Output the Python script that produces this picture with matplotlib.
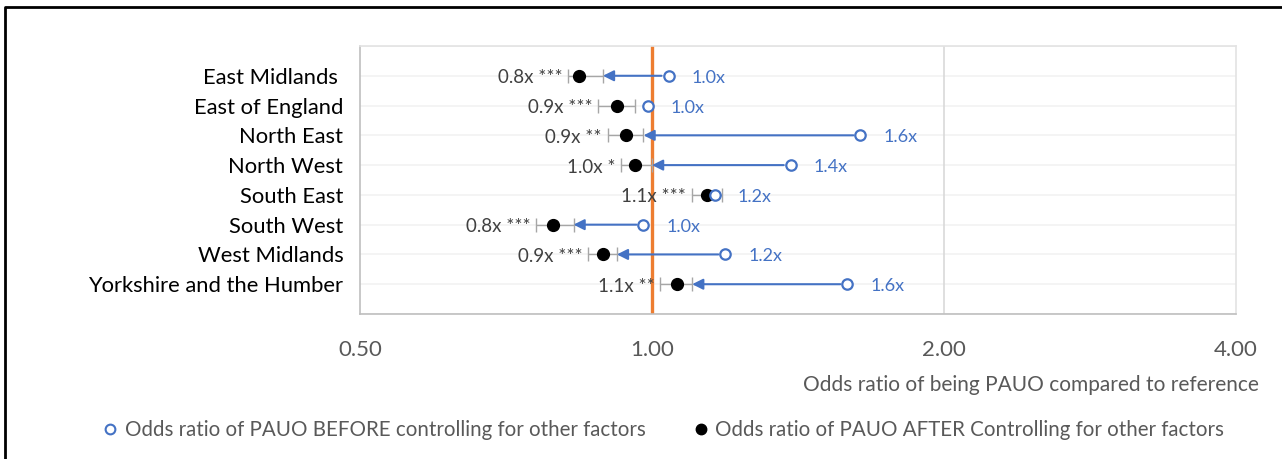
import numpy as np
import matplotlib
matplotlib.use('Agg')
import matplotlib.pyplot as plt
from matplotlib.lines import Line2D

plt.rcParams['font.family'] = ['Lato', 'DejaVu Sans']

regions = ['East Midlands ', 'East of England', 'North East', 'North West',
           'South East', 'South West', 'West Midlands', 'Yorkshire and the Humber']
before = [1.04, 0.99, 1.64, 1.39, 1.16, 0.98, 1.19, 1.59]
after = [0.84, 0.92, 0.94, 0.96, 1.14, 0.79, 0.89, 1.06]
ci_lo = [0.82, 0.88, 0.90, 0.93, 1.10, 0.76, 0.86, 1.02]
ci_hi = [0.89, 0.96, 0.98, 1.00, 1.18, 0.83, 0.92, 1.10]
stars = ['***', '***', '**', '*', '***', '***', '***', '**']
show_arrow = [True, False, True, True, False, True, True, True]

blue = '#4472C4'
orange = '#ED7D31'
grey_txt = '#595959'

fig = plt.figure(figsize=(12.82, 4.59), dpi=100)
ax = fig.add_axes([360 / 1282, 1 - 314 / 459, 876 / 1282, 268 / 459])

y = np.arange(1, len(regions) + 1)

ax.set_xscale('log', base=2)
ax.set_xlim(0.5, 4)
ax.set_ylim(9, 0)

# light row lines and vertical grid
for yy in range(0, 10):
    ax.axhline(yy, color='#F2F2F2', lw=1.2, zorder=0)
ax.axvline(2, color='#D9D9D9', lw=1.2, zorder=0)
ax.axvline(1, color=orange, lw=2.4, zorder=1)

# confidence intervals for the adjusted estimates
ax.errorbar(after, y, xerr=[np.array(after) - np.array(ci_lo), np.array(ci_hi) - np.array(after)],
            fmt='none', ecolor='#A6A6A6', elinewidth=1, capsize=5, capthick=1, zorder=2)

# arrows from unadjusted to adjusted
for i in range(len(regions)):
    if show_arrow[i]:
        ax.annotate('', xy=(ci_hi[i], y[i]), xytext=(before[i], y[i]),
                    arrowprops=dict(arrowstyle='-|>', color=blue, lw=1.5,
                                    mutation_scale=16, shrinkA=5, shrinkB=0),
                    zorder=3)

ax.plot(after, y, 'o', color='black', ms=8.5, zorder=4, linestyle='none')
ax.plot(before, y, 'o', mfc='white', mec=blue, mew=1.6, ms=7.5, zorder=5, linestyle='none')

for i in range(len(regions)):
    ax.annotate(f'{after[i]:.1f}x {stars[i]}', xy=(ci_lo[i], y[i]), xytext=(-6, -2),
                textcoords='offset pixels', ha='right', va='center',
                fontsize=13.5, color='#404040', zorder=6)
    ax.annotate(f'{before[i]:.1f}x', xy=(before[i], y[i]), xytext=(23, -2),
                textcoords='offset pixels', ha='left', va='center',
                fontsize=13, color=blue, zorder=6)

ax.set_xticks([0.5, 1, 2, 4])
ax.set_xticklabels(['0.50', '1.00', '2.00', '4.00'])
ax.minorticks_off()
ax.tick_params(axis='x', length=0, pad=19, labelsize=16, labelcolor=grey_txt)
ax.set_yticks(y)
ax.set_yticklabels(regions)
ax.tick_params(axis='y', length=0, pad=12, labelsize=15.8, labelcolor='black')

for side in ['top', 'right']:
    ax.spines[side].set_color('#E3E3E3')
for side in ['left', 'bottom']:
    ax.spines[side].set_color('#BFBFBF')
for s in ax.spines.values():
    s.set_linewidth(1.2)

fig.text(1259 / 1282, 1 - 385 / 459, 'Odds ratio of being PAUO compared to reference',
         ha='right', va='center', fontsize=15, color=grey_txt)

handles = [Line2D([], [], marker='o', ls='none', mfc='white', mec=blue, mew=1.5, ms=7),
           Line2D([], [], marker='o', ls='none', color='black', ms=7.5)]
labels = ['Odds ratio of PAUO BEFORE controlling for other factors',
          'Odds ratio of PAUO AFTER Controlling for other factors']
fig.legend(handles, labels, loc='center', bbox_to_anchor=(664 / 1282, 1 - 430 / 459),
           ncol=2, frameon=False, fontsize=14.8, labelcolor=grey_txt,
           handlelength=0.6, handletextpad=0.4, columnspacing=2.4)

# outer frame (left and top edges)
fig.add_artist(Line2D([5 / 1282, 5 / 1282, 1.0], [0.0, 1 - 6.5 / 459, 1 - 6.5 / 459],
                      transform=fig.transFigure, color='black', lw=2))

fig.savefig('out.png', dpi=100)
